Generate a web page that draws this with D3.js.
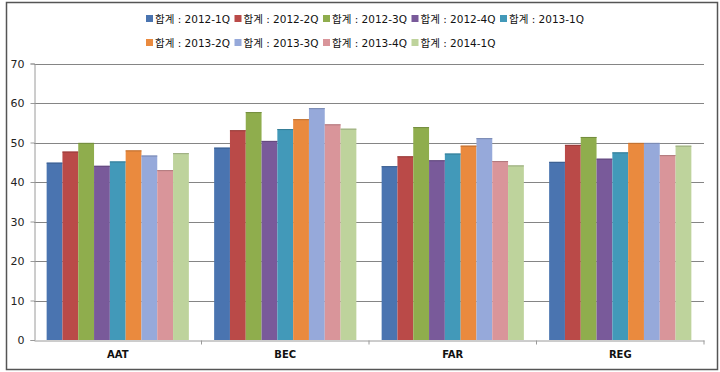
<!DOCTYPE html>
<html>
<head>
<meta charset="utf-8">
<script src="https://cdn.jsdelivr.net/npm/d3@7"></script>
<style>
body { margin: 0; background: #fff; }
text { font-family: "DejaVu Sans", "Noto Sans CJK KR", sans-serif; }
</style>
</head>
<body>
<svg id="chart" width="720" height="372"></svg>
<script>
var categories = ["AAT", "BEC", "FAR", "REG"];
var seriesNames = ["합계 : 2012-1Q", "합계 : 2012-2Q", "합계 : 2012-3Q", "합계 : 2012-4Q", "합계 : 2013-1Q",
  "합계 : 2013-2Q", "합계 : 2013-3Q", "합계 : 2013-4Q", "합계 : 2014-1Q"];
var colors = ["#4A74B0", "#BA4A48", "#8FAD4D", "#795A9A", "#4299B9", "#EA8A3E", "#96A9DA", "#D9959A", "#BED39C"];

// one array per category, in series order
var aat = [44.9, 47.7, 49.9, 44.1, 45.2, 48.0, 46.7, 43.0, 47.3];
var bec = [48.7, 53.1, 57.7, 50.4, 53.4, 55.9, 58.7, 54.6, 53.5];
var far = [44.0, 46.5, 53.9, 45.5, 47.2, 49.2, 51.1, 45.3, 44.2];
var reg = [45.1, 49.4, 51.4, 45.9, 47.5, 49.9, 49.9, 46.8, 49.2];
var yTicks = [0, 10, 20, 30, 40, 50, 60, 70];

var values = [aat, bec, far, reg];

var svg = d3.select("#chart");

// outer frame
svg.append("rect")
  .attr("x", 6.5).attr("y", 2.5)
  .attr("width", 711).attr("height", 367)
  .attr("fill", "#fff")
  .attr("stroke", "#555").attr("stroke-width", 1.5);

var plotLeft = 34, plotRight = 704, plotTop = 63.5, plotBottom = 340;

var x0 = d3.scaleBand().domain(categories).range([plotLeft, plotRight]).padding(0);
var x1 = d3.scaleBand().domain(seriesNames).range([0, x0.bandwidth()])
  .paddingInner(0).paddingOuter(0.8);
var y = d3.scaleLinear().domain([0, 70]).range([plotBottom, plotTop]);

// gridlines
svg.append("g").selectAll("line")
  .data(yTicks.filter(d => d > 0))
  .enter().append("line")
  .attr("x1", plotLeft).attr("x2", plotRight)
  .attr("y1", d => Math.round(y(d)) + 0.5).attr("y2", d => Math.round(y(d)) + 0.5)
  .attr("stroke", "#858585").attr("stroke-width", 1);

// bars
var barData = (d, i) => values[i].map((v, j) => ({ s: seriesNames[j], v: v, c: colors[j] }));

var groups = svg.append("g").selectAll("g")
  .data(categories)
  .enter().append("g")
  .attr("transform", d => "translate(" + x0(d) + ",0)");

groups.selectAll("rect")
  .data(barData)
  .enter().append("rect")
  .attr("x", d => x1(d.s))
  .attr("width", x1.bandwidth())
  .attr("y", d => y(d.v))
  .attr("height", d => y(0) - y(d.v))
  .attr("fill", d => d.c);

groups.selectAll("line.top")
  .data(barData)
  .enter().append("line")
  .attr("class", "top")
  .attr("x1", d => x1(d.s)).attr("x2", d => x1(d.s) + x1.bandwidth())
  .attr("y1", d => y(d.v) + 0.5).attr("y2", d => y(d.v) + 0.5)
  .attr("stroke", d => d3.color(d.c).darker(0.6))
  .attr("stroke-width", 1);

// y axis
var yAxis = d3.axisLeft(y).tickValues(yTicks).tickSize(4).tickPadding(6);
var gy = svg.append("g").attr("transform", "translate(" + (plotLeft + 0.5) + ",0)").call(yAxis);
gy.select(".domain").attr("stroke", "#9a9a9a");
gy.selectAll(".tick line").attr("stroke", "#9a9a9a");
gy.selectAll(".tick text").attr("font-size", 11).attr("fill", "#222")
  .attr("font-family", "DejaVu Sans");

// x axis
var xAxis = d3.axisBottom(x0).tickSize(0).tickPadding(10);
var gx = svg.append("g").attr("transform", "translate(0," + (plotBottom + 0.5) + ")").call(xAxis);
gx.select(".domain").attr("stroke", "#9a9a9a");
gx.selectAll(".tick text").attr("font-size", 10).attr("fill", "#111")
  .attr("font-family", "DejaVu Sans").attr("font-weight", "bold");
// category separators
gx.selectAll("line.sep")
  .data(categories)
  .enter().append("line")
  .attr("class", "sep")
  .attr("x1", d => x0(d) + x0.bandwidth()).attr("x2", d => x0(d) + x0.bandwidth())
  .attr("y1", 0).attr("y2", 4)
  .attr("stroke", "#9a9a9a");

// legend
var legend = svg.append("g").selectAll("g")
  .data(seriesNames)
  .enter().append("g")
  .attr("transform", (d, i) => "translate(" + (146 + (i % 5) * 88.5) + "," + (i < 5 ? 19 : 43) + ")");

legend.append("rect")
  .attr("x", 0).attr("y", -4)
  .attr("width", 7).attr("height", 7)
  .attr("fill", (d, i) => colors[i]);

legend.append("text")
  .attr("x", 9).attr("y", 0)
  .attr("dy", "0.35em")
  .attr("font-size", 10.5)
  .attr("fill", "#111")
  .text(d => d);
</script>
</body>
</html>
